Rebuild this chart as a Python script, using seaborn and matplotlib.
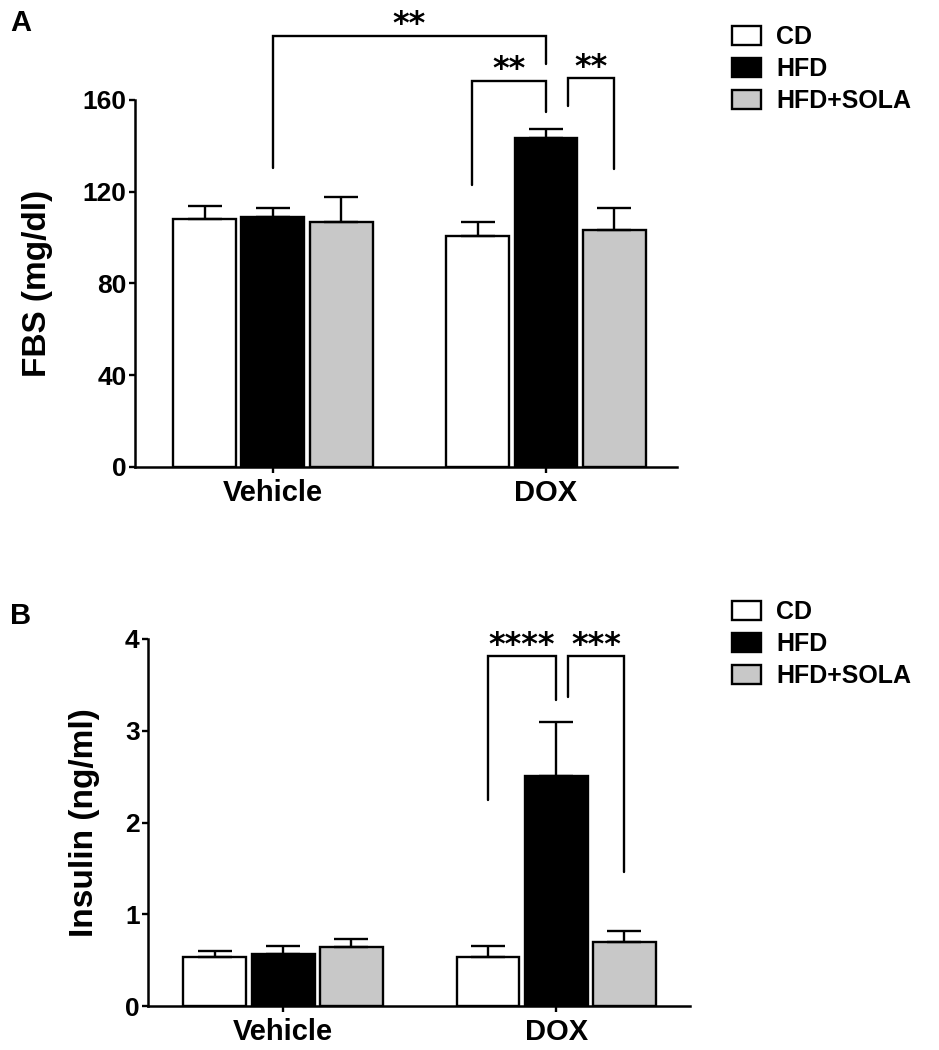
import numpy as np
import pandas as pd
import matplotlib
matplotlib.use("Agg")
import matplotlib.pyplot as plt
import seaborn as sns

# =========================================================
# Data
# =========================================================
groups = ["Vehicle", "DOX"]
diets = ["CD", "HFD", "HFD+SOLA"]
colors = ["#ffffff", "#000000", "#c8c8c8"]

fbs_vehicle = [108.0, 109.0, 107.0]
fbs_vehicle_sem = [6.0, 4.0, 10.5]
fbs_dox = [100.5, 143.5, 103.5]
fbs_dox_sem = [6.5, 4.0, 9.5]

ins_vehicle = [0.53, 0.57, 0.645]
ins_vehicle_sem = [0.07, 0.08, 0.085]
ins_dox = [0.53, 2.51, 0.70]
ins_dox_sem = [0.12, 0.59, 0.12]

# significance brackets: (group, hue_left, hue_right, dx_left, dx_right,
#                         y_left_leg, y_top, y_right_leg, label)
fbs_brackets = [
    (0, 1, 1, 0.0, 0.0, 130.5, 188.0, 175.5, "**"),   # Vehicle HFD -> DOX HFD (right leg on DOX)
    (1, 0, 1, -0.02, 0.0, 123.0, 168.5, 154.6, "**"),
    (1, 1, 2, 0.08, 0.0, 157.6, 169.4, 130.0, "**"),
]
ins_brackets = [
    (1, 0, 1, 0.0, 0.0, 2.25, 3.82, 3.34, "****"),
    (1, 1, 2, 0.045, 0.0, 3.37, 3.82, 1.46, "***"),
]


def make_df(veh, veh_sem, dox, dox_sem):
    rows = []
    for g, vals, sems in [("Vehicle", veh, veh_sem), ("DOX", dox, dox_sem)]:
        for d, v, s in zip(diets, vals, sems):
            rows.append({"group": g, "diet": d, "value": v, "sem": s})
    return pd.DataFrame(rows)


# =========================================================
# Style
# =========================================================
sns.set_theme(style="ticks")
plt.rcParams["font.family"] = ["Liberation Sans", "DejaVu Sans"]
plt.rcParams["font.weight"] = "bold"
plt.rcParams["axes.labelweight"] = "bold"
for key in ["text.color", "axes.labelcolor", "xtick.color", "ytick.color",
            "axes.edgecolor"]:
    plt.rcParams[key] = "black"

W, H = 939, 1050
fig = plt.figure(figsize=(W / 100, H / 100), dpi=100)


def draw_panel(ax, df, ylabel, ymax, yticks, brackets, star_off, label_x, xlim):
    sns.barplot(data=df, x="group", y="value", hue="diet",
                order=groups, hue_order=diets, palette=colors,
                edgecolor="black", linewidth=1.7, width=0.75, gap=0.08,
                errorbar=None, saturation=1, ax=ax)

    bar_containers = list(ax.containers)

    # upward-only SEM bars
    centers = {}
    for i, cont in enumerate(bar_containers):
        for j, bar in enumerate(cont):
            x = bar.get_x() + bar.get_width() / 2
            y = bar.get_height()
            centers[(j, i)] = x
            s = df[(df.group == groups[j]) & (df.diet == diets[i])]["sem"].iloc[0]
            ax.errorbar([x], [y], yerr=[[0], [s]], fmt="none", ecolor="black",
                        elinewidth=1.7, capsize=12, capthick=1.7, zorder=3)

    # brackets
    for g, h1, h2, dx1, dx2, yl, top, yr, lab in brackets:
        if g == 0 and h1 == h2:
            x1 = centers[(0, h1)]
            x2 = centers[(1, h2)]
        else:
            x1 = centers[(g, h1)] + dx1
            x2 = centers[(g, h2)] + dx2
        ax.plot([x1, x1, x2, x2], [yl, top, top, yr], color="black",
                lw=1.7, clip_on=False, solid_joinstyle="miter")
        ax.text((x1 + x2) / 2, top + star_off, lab, ha="center", va="baseline",
                fontsize=23, fontweight="bold", family="DejaVu Sans",
                color="black", clip_on=False)

    handles, labels = ax.get_legend_handles_labels()
    if ax.legend_ is not None:
        ax.legend_.remove()

    ax.set_ylim(0, ymax)
    ax.set_yticks(yticks)
    ax.set_xlim(*xlim)
    ax.set_xlabel("")
    ax.set_ylabel(ylabel, fontsize=24, fontweight="bold", color="black")
    ax.yaxis.set_label_coords(label_x, 0.5)
    ax.tick_params(axis="y", labelsize=19, length=4, width=1.7, pad=2,
                   colors="black")
    ax.tick_params(axis="x", labelsize=21, length=4, width=1.7, pad=5,
                   colors="black")
    for lbl in ax.get_xticklabels() + ax.get_yticklabels():
        lbl.set_fontweight("bold")
    for sp in ["left", "bottom"]:
        ax.spines[sp].set_linewidth(1.8)
        ax.spines[sp].set_color("black")
    sns.despine(ax=ax)
    return handles, labels


# ------------------ Panel A ------------------
axA = fig.add_axes([135 / W, 1 - 467 / H, 542 / W, 367 / H])
dfA = make_df(fbs_vehicle, fbs_vehicle_sem, fbs_dox, fbs_dox_sem)
hA, lA = draw_panel(axA, dfA, "FBS (mg/dl)", 160, [0, 40, 80, 120, 160],
                    fbs_brackets, 1.0, -0.151, (-0.505, 1.48))

# ------------------ Panel B ------------------
axB = fig.add_axes([148 / W, 1 - 1006 / H, 542 / W, 367 / H])
dfB = make_df(ins_vehicle, ins_vehicle_sem, ins_dox, ins_dox_sem)
hB, lB = draw_panel(axB, dfB, "Insulin (ng/ml)", 4, [0, 1, 2, 3, 4],
                    ins_brackets, 0.02, -0.089, (-0.495, 1.49))

# legends
for ax, hh, ll, ytop in [(axA, hA, lA, 1 - 25 / H), (axB, hB, lB, 1 - 600 / H)]:
    leg = ax.legend(hh, ll, loc="upper left", bbox_to_anchor=(732 / W, ytop),
                    bbox_transform=fig.transFigure, frameon=False,
                    borderpad=0, borderaxespad=0, fontsize=18,
                    handlelength=1.16, handleheight=0.8, handletextpad=0.6,
                    labelspacing=0.32)
    for t in leg.get_texts():
        t.set_fontweight("bold")
        t.set_color("black")
    for p in leg.get_patches():
        p.set_edgecolor("black")
        p.set_linewidth(1.7)

# panel letters
fig.text(21 / W, 1 - 23 / H, "A", fontsize=21, fontweight="bold", ha="center", va="center")
fig.text(21 / W, 1 - 616 / H, "B", fontsize=21, fontweight="bold", ha="center", va="center")

fig.savefig("out.png", dpi=100)
plt.close(fig)
